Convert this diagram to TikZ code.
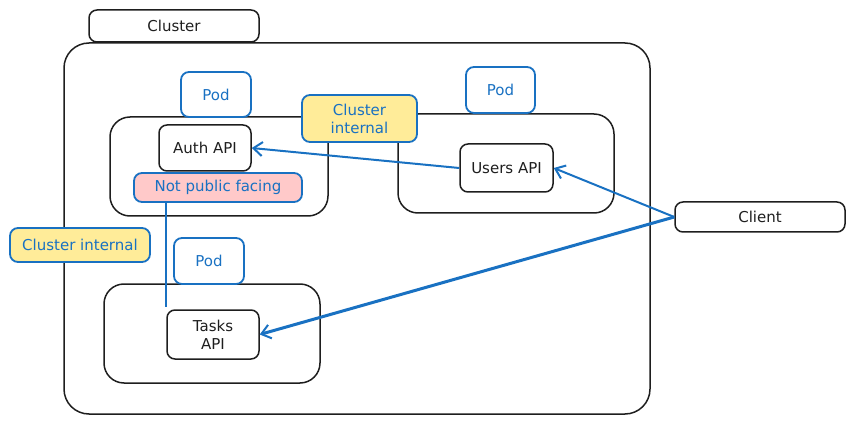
\documentclass[tikz,border=0pt]{standalone}
\usepackage{fontspec}
\setmainfont{DejaVu Sans}
\usetikzlibrary{arrows.meta}
\definecolor{inkblack}{HTML}{1E1E1E}
\definecolor{inkblue}{HTML}{1971C2}
\definecolor{noteyellow}{HTML}{FFEC99}
\definecolor{notepink}{HTML}{FFC9C9}
\tikzset{
  box/.style={draw=inkblack, line width=1.5pt, rounded corners=8pt, text=inkblack, align=center, inner sep=0pt},
  group/.style={draw=inkblack, line width=1.5pt, rounded corners=20pt, inner sep=0pt},
  tag/.style={draw=inkblue, line width=1.8pt, rounded corners=8pt, text=inkblue, align=center, inner sep=0pt},
  link/.style={draw=inkblue, line width=2pt, -{Straight Barb[length=9pt,width=14pt,line width=2pt]}},
}
\begin{document}
\begin{tikzpicture}[x=1pt, y=-1pt, font=\fontsize{15}{18}\selectfont]
  \useasboundingbox (0,0) rectangle (855,425);

  % cluster
  \node[group, rounded corners=25pt, minimum width=586pt, minimum height=371pt] (cluster) at (357,228.5) {};
  \node[box, minimum width=170pt, minimum height=32pt] (clusterlbl) at (174,26) {Cluster};

  % auth pod
  \node[group, minimum width=218pt, minimum height=99pt] (authpod) at (219,166.5) {};
  \node[tag, minimum width=70pt, minimum height=45pt] (podA) at (216,94.5) {Pod};
  \node[box, minimum width=92pt, minimum height=46pt] (auth) at (205,148) {Auth API};
  \node[tag, fill=notepink, minimum width=168pt, minimum height=29pt] (npf) at (218,187.5) {Not public facing};

  % users pod
  \node[group, minimum width=216pt, minimum height=99pt] (userpod) at (506,163.5) {};
  \node[tag, minimum width=69pt, minimum height=46pt] (podU) at (500.5,90) {Pod};
  \node[box, minimum width=93pt, minimum height=48pt] (users) at (506.5,168) {Users API};

  % tasks pod
  \node[group, minimum width=216pt, minimum height=99pt] (taskpod) at (212,333.5) {};
  \node[tag, minimum width=70pt, minimum height=46pt] (podT) at (209,261) {Pod};
  \node[box, minimum width=92pt, minimum height=49pt] (tasks) at (213,334.5) {Tasks\\API};

  % notes
  \node[tag, fill=noteyellow, minimum width=115pt, minimum height=47pt] (ci1) at (359.5,118.5) {Cluster\\internal};
  \node[tag, fill=noteyellow, minimum width=140pt, minimum height=34pt] (ci2) at (80,245) {Cluster internal};

  % client
  \node[box, minimum width=170pt, minimum height=30pt] (client) at (760,217) {Client};

  % connectors
  \draw[inkblue, line width=2pt] (npf.south -| tasks.north west) -- ([yshift=2pt]tasks.north west);
  \draw[link] (users.west) -- (auth.east);
  \draw[link] (client.west) -- (users.east);
  \draw[link, line width=3pt] (client.west) -- (tasks.east);
\end{tikzpicture}
\end{document}
